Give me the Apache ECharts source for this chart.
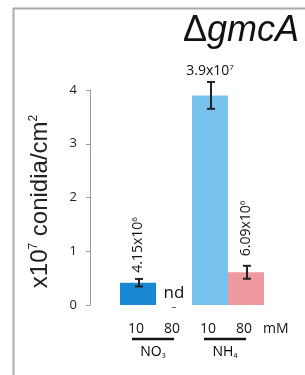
<!DOCTYPE html>
<html>
<head>
<meta charset="utf-8">
<script src="https://cdn.jsdelivr.net/npm/echarts@6/dist/echarts.min.js"></script>
<style>
  html, body { margin: 0; padding: 0; background: #fff; }
  #main { width: 305px; height: 375px; }
</style>
</head>
<body>
<div id="main"></div>
<script>
// concentrations (mM) per bar, and the nitrogen source groups
var categories = ['10', '80', '10', '80'];
var groups = ['NO3', 'NH4'];
// conidia, x10^7 per cm^2 (nd = not detected)
var means = [0.415, 0, 3.9, 0.609];
var errors = [0.07, null, 0.25, 0.12];
var barLabels = [['4.15x10', '6'], ['nd', ''], ['3.9x10', '7'], ['6.09x10', '6']];
var yTicks = [0, 1, 2, 3, 4];

var colors = ['#1b88d3', '#ffffff', '#78c3ee', '#ee9aa0'];
var numFont = 'Open Sans';
var mainFont = 'Liberation Sans';

var myChart = echarts.init(document.getElementById('main'));

var supRich = {
  n: { fontSize: 14, fontFamily: numFont, color: '#111' },
  s: { fontSize: 8, fontFamily: numFont, color: '#111', verticalAlign: 'top', padding: [0, 0, 7, 0] }
};

var barData = means.map(function (v, i) {
  var item = { value: v, itemStyle: { color: colors[i] } };
  if (i === 1) {
    item.label = {
      show: true, position: 'top', distance: 0, offset: [0, 7],
      formatter: '{nd|nd}\n{dash|–}',
      rich: {
        nd: { fontSize: 17, fontFamily: numFont, color: '#111', lineHeight: 18 },
        dash: { fontSize: 10, fontFamily: numFont, color: '#444', lineHeight: 10 }
      }
    };
  } else if (i === 2) {
    item.label = {
      show: true, position: 'top', distance: 17,
      formatter: '{n|' + barLabels[i][0] + '}{s|' + barLabels[i][1] + '}',
      rich: supRich
    };
  } else {
    item.label = {
      show: true, position: 'top', distance: i === 0 ? 10 : 16,
      rotate: 90, align: 'left', verticalAlign: 'middle',
      formatter: '{n|' + barLabels[i][0] + '}{s|' + barLabels[i][1] + '}',
      rich: supRich
    };
  }
  return item;
});

var errData = [];
means.forEach(function (v, i) {
  if (errors[i] != null) errData.push([i, v - errors[i], v + errors[i]]);
});

var option = {
  animation: false,
  title: {
    text: '{d|Δ}{i|gmcA}',
    right: 1, top: 8,
    textStyle: {
      fontWeight: 'normal',
      rich: {
        d: { fontSize: 36, fontFamily: mainFont, fontWeight: 'normal', color: '#111' },
        i: { fontSize: 36, fontFamily: mainFont, fontWeight: 'normal', fontStyle: 'italic', color: '#111' }
      }
    }
  },
  grid: { left: 120, right: 41, top: 90, bottom: 70 },
  xAxis: {
    type: 'category',
    data: categories,
    axisLine: { show: false },
    axisTick: { show: false },
    axisLabel: {
      margin: 17, color: '#111', fontSize: 14, fontFamily: numFont,
      padding: [0, 4, 0, 0]
    }
  },
  yAxis: {
    type: 'value',
    min: 0, max: 4, interval: 1,
    offset: 30,
    name: '{a|x10}{s|7}{a| conidia/cm}{s|2}',
    nameLocation: 'middle',
    nameGap: 38,
    nameRotate: 90,
    nameTextStyle: {
      padding: [0, 8, 0, 0],
      rich: {
        a: { fontSize: 24, fontFamily: mainFont, color: '#222' },
        s: { fontSize: 12, fontFamily: mainFont, color: '#222', verticalAlign: 'top', padding: [0, 0, 12, 0] }
      }
    },
    splitLine: { show: false },
    axisLine: { show: true, lineStyle: { color: '#999', width: 1 } },
    axisTick: { show: true, inside: false, length: 4, lineStyle: { color: '#999' } },
    axisLabel: {
      margin: 13, color: '#222', fontSize: 13, fontFamily: numFont,
      formatter: function (v) { return yTicks.indexOf(v) >= 0 ? String(v) : ''; }
    }
  },
  series: [
    {
      type: 'bar',
      data: barData,
      barCategoryGap: '0%',
      z: 2
    },
    {
      type: 'custom',
      data: errData,
      clip: false,
      z: 5,
      renderItem: function (params, api) {
        var lo = api.coord([api.value(0), api.value(1)]);
        var hi = api.coord([api.value(0), api.value(2)]);
        var x = lo[0] + 1;
        var cap = 4;
        var st = { stroke: '#222', lineWidth: 2 };
        return {
          type: 'group',
          children: [
            { type: 'line', shape: { x1: x, y1: lo[1], x2: x, y2: hi[1] }, style: st },
            { type: 'line', shape: { x1: x - cap, y1: lo[1], x2: x + cap, y2: lo[1] }, style: st },
            { type: 'line', shape: { x1: x - cap, y1: hi[1], x2: x + cap, y2: hi[1] }, style: st }
          ]
        };
      }
    }
  ]
};

myChart.setOption(option);

// group annotations below the concentration labels, placed from the axis scale
var px = categories.map(function (c, i) {
  var p = myChart.convertToPixel({ xAxisIndex: 0 }, i);
  return Array.isArray(p) ? p[0] : p;
});
var lineY = 339, groupY = 352;
var subRich = {
  t: { fontSize: 14, fontFamily: numFont, color: '#111' },
  u: { fontSize: 7, fontFamily: numFont, color: '#111', verticalAlign: 'bottom', padding: [7, 0, 0, 0] }
};
var graphics = [
  // outer frame
  { type: 'line', shape: { x1: 13.5, y1: 8, x2: 13.5, y2: 375 }, style: { stroke: '#aaa', lineWidth: 2 } },
  { type: 'line', shape: { x1: 13, y1: 8.5, x2: 305, y2: 8.5 }, style: { stroke: '#aaa', lineWidth: 2 } },
  {
    type: 'text', x: px[3] + 17, y: 329,
    style: { text: 'mM', fontSize: 14, fontFamily: numFont, fill: '#111', verticalAlign: 'middle' }
  }
];
groups.forEach(function (g, k) {
  var a = px[k * 2], b = px[k * 2 + 1];
  graphics.push({
    type: 'line',
    shape: { x1: a - 6, y1: lineY, x2: b, y2: lineY },
    style: { stroke: '#111', lineWidth: 2.5 }
  });
  graphics.push({
    type: 'text', x: (a + b) / 2 - 3, y: groupY,
    style: {
      text: '{t|' + g.slice(0, 2) + '}{u|' + g.slice(2) + '}',
      rich: subRich, align: 'center', verticalAlign: 'middle'
    }
  });
});
myChart.setOption({ graphic: graphics });
</script>
</body>
</html>
